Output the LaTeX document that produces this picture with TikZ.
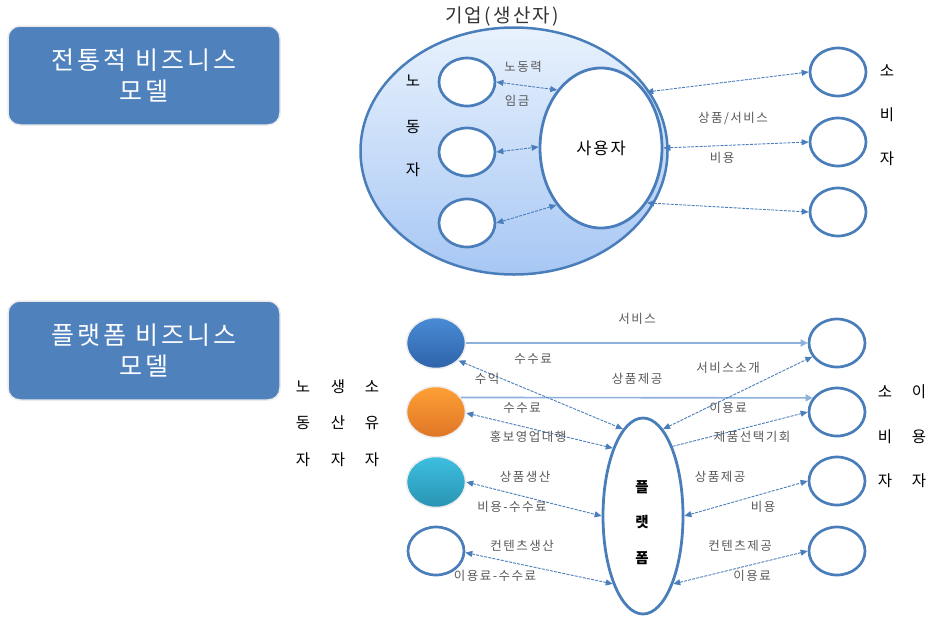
\documentclass[tikz,border=0pt]{standalone}
\usepackage{fontspec}
\setmainfont{Noto Sans CJK KR}[LetterSpace=12]
\usetikzlibrary{shapes.geometric,arrows.meta}
\definecolor{bl}{HTML}{4F81BD}
\definecolor{edge}{HTML}{4A7EBB}
\definecolor{lab}{HTML}{595959}
\definecolor{hlc}{HTML}{8DB0DC}
\definecolor{firmtop}{HTML}{E9F2FD}
\definecolor{firmbot}{HTML}{A7C7F4}
\definecolor{p1t}{HTML}{4A8BD6}
\definecolor{p1b}{HTML}{2D63A9}
\definecolor{p2t}{HTML}{FFA035}
\definecolor{p2b}{HTML}{DE7526}
\definecolor{p3t}{HTML}{3DBFE0}
\definecolor{p3b}{HTML}{2A93B2}
\begin{document}
\begin{tikzpicture}[x=1pt,y=-1pt,
  circ/.style={ellipse,draw=edge,line width=2.7pt,fill=white,minimum width=56pt,minimum height=48pt,inner sep=0pt},
  dot/.style={ellipse,draw=black!7,line width=1.5pt,minimum width=59pt,minimum height=51pt,inner sep=0pt},
  titlebox/.style={rounded corners=12pt,fill=bl,draw=black!8,line width=1.5pt,minimum width=272pt,minimum height=99pt,text=white,font=\fontsize{25}{31}\selectfont,align=center},
  lbl/.style={font=\fontsize{12.5}{14}\selectfont,text=lab,inner sep=0pt},
  big/.style={font=\fontsize{15.5}{17}\selectfont,inner sep=0pt},
  arr/.style={edge,line width=0.9pt,dash pattern=on 3pt off 1.2pt,{Triangle[width=6pt,length=7pt]}-{Triangle[width=6pt,length=7pt]}},
  arrone/.style={edge,line width=0.9pt,dash pattern=on 3pt off 1.2pt,-{Triangle[width=6pt,length=7pt]}},
  hl/.style={hlc,line width=1.6pt,-{Triangle[width=7pt,length=7pt]}}
]
\useasboundingbox (0,0) rectangle (935,622);

% ---------- titles ----------
\node[titlebox] (t1) at (144,75.5) {전통적 비즈니스\\모델};
\node[titlebox] (t2) at (144,350.5) {플랫폼 비즈니스\\모델};

% ---------- traditional model ----------
\node[ellipse,minimum width=307pt,minimum height=247pt,inner sep=0pt,
      top color=firmtop,bottom color=firmbot,draw=edge,line width=2.5pt] (firm) at (514,151) {};
\node[font=\fontsize{19}{21}\selectfont,text=black!80,inner sep=0pt] (firmlbl) at (502,17) {기업(생산자)};

\node[circ] (w1) at (467,82) {};
\node[circ] (w2) at (467,152) {};
\node[circ] (w3) at (467,223) {};
\node[big] (wl1) at (413,81) {노};
\node[big] (wl2) at (413,127) {동};
\node[big] (wl3) at (413,170) {자};

\node[ellipse,draw=edge,line width=2.8pt,fill=white,minimum width=122pt,minimum height=160pt,inner sep=0pt,font=\fontsize{16.5}{18}\selectfont] (user) at (601,148) {사용자};

\draw[arr] (w1.east) -- (user.127);
\draw[arr] (w2.east) -- (user.179);
\draw[arr] (w3.east) -- (user.232);
\node[lbl] (l1) at (523,67) {노동력};
\node[lbl] (l2) at (517,101) {임금};

\node[circ] (c1) at (838,72) {};
\node[circ] (c2) at (838,142) {};
\node[circ] (c3) at (838,212) {};
\node[big] (cl1) at (887,71) {소};
\node[big] (cl2) at (887,115) {비};
\node[big] (cl3) at (887,159) {자};

\draw[arr] (user.51) -- (c1.west);
\draw[arr] (user.0) -- (c2.west);
\draw[arr] (user.-50) -- (c3.west);
\node[lbl] (l3) at (733,118) {상품/서비스};
\node[lbl] (l4) at (722,158) {비용};

% ---------- platform model ----------
\node[dot,top color=p1t,bottom color=p1b] (p1) at (436,343) {};
\node[dot,top color=p2t,bottom color=p2b] (p2) at (436,412) {};
\node[dot,top color=p3t,bottom color=p3b] (p3) at (436,482) {};
\node[circ] (p4) at (436,551) {};

\node[big] (s11) at (303,387) {노};
\node[big] (s12) at (338,387) {생};
\node[big] (s13) at (372,387) {소};
\node[big] (s21) at (303,423) {동};
\node[big] (s22) at (338,423) {산};
\node[big] (s23) at (372,423) {유};
\node[big] (s31) at (303,460) {자};
\node[big] (s32) at (338,460) {자};
\node[big] (s33) at (372,460) {자};

\node[ellipse,draw=edge,line width=2.8pt,fill=white,minimum width=80pt,minimum height=196pt,inner sep=0pt] (plat) at (643,516) {};
\node[big,font=\fontsize{14.5}{16}\selectfont\bfseries] (pl1) at (642,487) {플};
\node[big,font=\fontsize{14.5}{16}\selectfont\bfseries] (pl2) at (642,522) {랫};
\node[big,font=\fontsize{14.5}{16}\selectfont\bfseries] (pl3) at (642,558) {폼};

\node[circ] (q1) at (837,343) {};
\node[circ] (q2) at (837,412) {};
\node[circ] (q3) at (837,481) {};
\node[circ] (q4) at (837,551) {};

\node[big] (r11) at (885,392) {소};
\node[big] (r12) at (919,392) {이};
\node[big] (r21) at (885,437) {비};
\node[big] (r22) at (919,437) {용};
\node[big] (r31) at (885,481) {자};
\node[big] (r32) at (919,481) {자};

% horizontal lines
\draw[hl] (p1.east) -- (q1.west);
\draw[hl] (p2.30) -- (q2.150);
\node[lbl] (m1) at (637,319) {서비스};
\node[lbl] (m2) at (637,379) {상품제공};

% producers <-> platform
\draw[arr] (p1.-38) -- (plat.103);
\node[lbl] (m3) at (533,359) {수수료};
\node[lbl] (m4) at (487,379) {수익};
\draw[arr] (p2.-2) -- (plat.114);
\node[lbl] (m5) at (522,408) {수수료};
\node[lbl] (m6) at (528,437) {홍보영업대행};
\draw[arr] (p3.east) -- (plat.180);
\node[lbl] (m7) at (525,477) {상품생산};
\node[lbl] (m8) at (512,507) {비용-수수료};
\draw[arr] (p4.-3) -- (plat.246);
\node[lbl] (m9) at (522,546) {컨텐츠생산};
\node[lbl] (m10) at (495,576) {이용료-수수료};

% platform <-> consumers
\draw[arr] (plat.77) -- (q1.209);
\node[lbl] (n1) at (728,368) {서비스소개};
\node[lbl] (n2) at (728,408) {이용료};
\draw[arrone] (plat.67) -- (q2.west);
\node[lbl] (n3) at (752,437) {제품선택기회};
\draw[arr] (plat.0) -- (q3.west);
\node[lbl] (n4) at (720,477) {상품제공};
\node[lbl] (n5) at (763,507) {비용};
\draw[arr] (plat.-66) -- (q4.west);
\node[lbl] (n6) at (740,546) {컨텐츠제공};
\node[lbl] (n7) at (752,576) {이용료};
\end{tikzpicture}
\end{document}
